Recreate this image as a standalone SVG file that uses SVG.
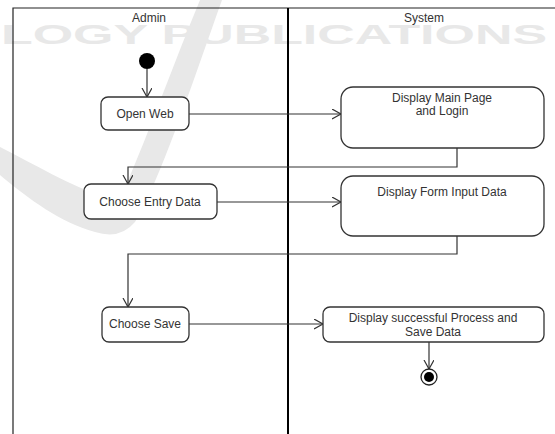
<svg xmlns="http://www.w3.org/2000/svg" width="555" height="434" viewBox="0 0 555 434">
  <style>
    .lane { fill: none; stroke: #222; stroke-width: 1.2; }
    .divider { fill: none; stroke: #000; stroke-width: 2; }
    .act { fill: #fff; stroke: #333; stroke-width: 1.3; }
    .label { font-family: "Liberation Sans", Arial, sans-serif; font-size: 12px; fill: #333; text-anchor: middle; }
    .flow { fill: none; stroke: #333; stroke-width: 1.2; }
    .mark { fill: #e8e8e8; }
  </style>
  <defs>
    <marker id="open-arrow" markerWidth="12" markerHeight="12" refX="9" refY="5" orient="auto" markerUnits="userSpaceOnUse">
      <path d="M0,0 L9,5 L0,10" fill="none" stroke="#333" stroke-width="1.2"/>
    </marker>
  </defs>

  <rect width="555" height="434" fill="#fff"/>

  <!-- background watermark -->
  <g id="watermark">
    <text class="mark" x="1" y="44" font-family="'Liberation Sans', Arial, sans-serif" font-size="27" font-weight="bold" textLength="546" lengthAdjust="spacingAndGlyphs">LOGY PUBLICATIONS</text>
    <path class="mark" d="M200,0 L222,0 C190,90 160,180 135,222 Q120,240 95,232 C60,222 30,200 0,175 L0,147 C35,165 70,185 105,198 Q118,202 124,190 C150,130 175,60 200,0 Z"/>
  </g>

  <!-- swimlanes -->
  <g id="lanes">
    <path class="lane" d="M13,434 L13,8 L555,8"/>
    <line class="divider" x1="288" y1="8" x2="288" y2="434"/>
    <text class="label" x="149" y="22" font-size="11">Admin</text>
    <text class="label" x="424" y="22" font-size="11">System</text>
  </g>

  <!-- connectors -->
  <g id="connectors">
    <path class="flow" d="M147,69 L147,97" marker-end="url(#open-arrow)"/>
    <path class="flow" d="M189,114 L341,114" marker-end="url(#open-arrow)"/>
    <path class="flow" d="M457,148 L457,167 L128,167 L128,184" marker-end="url(#open-arrow)"/>
    <path class="flow" d="M217,202 L341,202" marker-end="url(#open-arrow)"/>
    <path class="flow" d="M457,236 L457,254 L128,254 L128,307" marker-end="url(#open-arrow)"/>
    <path class="flow" d="M189,324 L323,324" marker-end="url(#open-arrow)"/>
    <path class="flow" d="M429,342 L429,369" marker-end="url(#open-arrow)"/>
  </g>

  <!-- Admin lane -->
  <g id="start">
    <circle cx="147" cy="61" r="8" fill="#000"/>
  </g>
  <g id="open-web">
    <rect class="act" x="101" y="97" width="88" height="33" rx="7"/>
    <text class="label" x="145" y="118">Open Web</text>
  </g>
  <g id="choose-entry-data">
    <rect class="act" x="84" y="184" width="133" height="35" rx="7"/>
    <text class="label" x="150" y="206">Choose Entry Data</text>
  </g>
  <g id="choose-save">
    <rect class="act" x="102" y="307" width="87" height="35" rx="7"/>
    <text class="label" x="145" y="328">Choose Save</text>
  </g>

  <!-- System lane -->
  <g id="display-main-page">
    <rect class="act" x="341" y="87" width="203" height="61" rx="12"/>
    <text class="label" x="442" y="102">Display Main Page</text>
    <text class="label" x="442" y="115">and Login</text>
  </g>
  <g id="display-form-input">
    <rect class="act" x="341" y="176" width="203" height="60" rx="12"/>
    <text class="label" x="442" y="196">Display Form Input Data</text>
  </g>
  <g id="display-success">
    <rect class="act" x="323" y="307" width="221" height="35" rx="7"/>
    <text class="label" x="433" y="322">Display successful Process and</text>
    <text class="label" x="433" y="336">Save Data</text>
  </g>
  <g id="end">
    <circle cx="429" cy="377" r="8" fill="#fff" stroke="#222" stroke-width="1.3"/>
    <circle cx="429" cy="377" r="5" fill="#000"/>
  </g>
</svg>
